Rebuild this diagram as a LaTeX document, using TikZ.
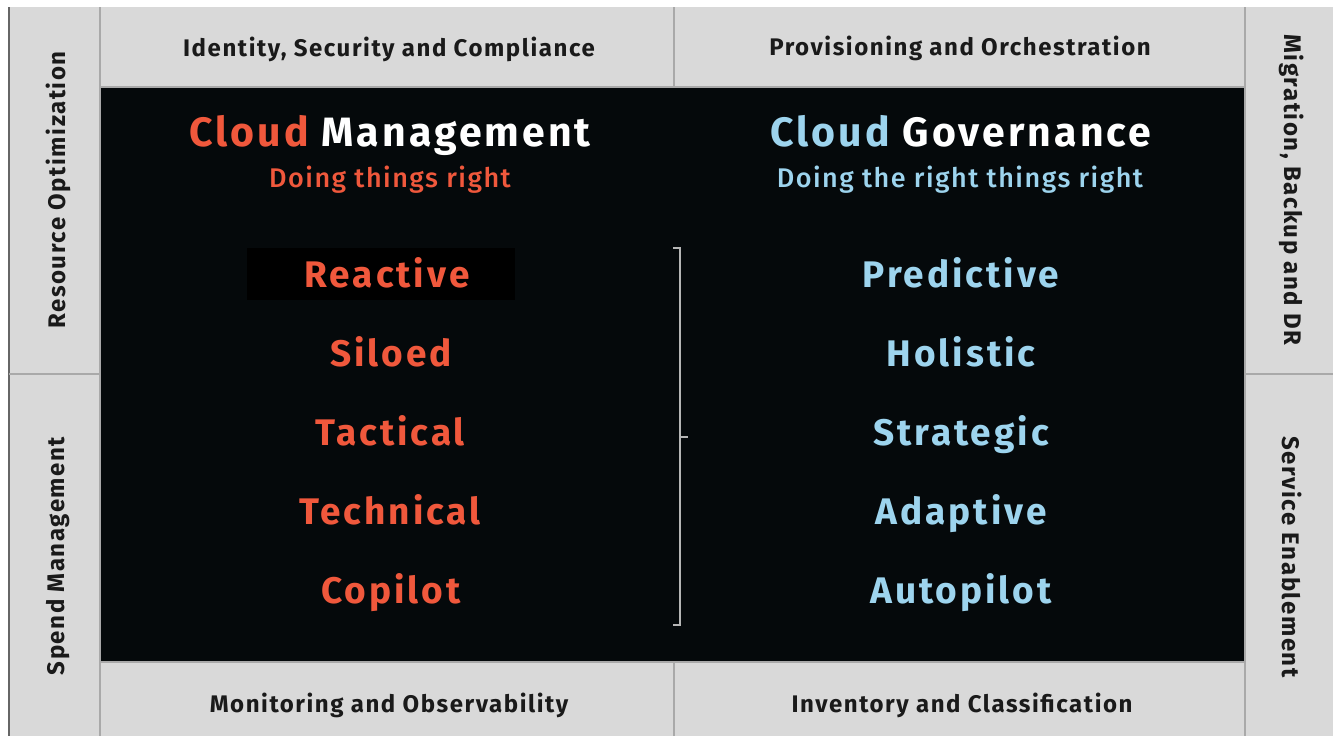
\documentclass[tikz,border=0pt]{standalone}
\usepackage{fontspec}
\setmainfont{Fira Sans}
\newfontfamily\cellfont{Fira Sans Bold}[LetterSpace=6.5]
\newfontfamily\headfont{Fira Sans Bold}[LetterSpace=7.5]
\newfontfamily\subfont{Fira Sans Medium}[LetterSpace=5.5]
\newfontfamily\itemfont{Fira Sans Bold}[LetterSpace=8]
\definecolor{panel}{HTML}{D9D9D9}
\definecolor{ink}{HTML}{1A1A1A}
\definecolor{night}{HTML}{05090B}
\definecolor{rust}{HTML}{F0583C}
\definecolor{sky}{HTML}{9DD4EE}
\definecolor{rule}{HTML}{A9A9A9}
\begin{document}
\begin{tikzpicture}[x=1pt,y=-1pt,
  cell/.style={font=\cellfont\fontsize{24}{26}\selectfont, text=ink, inner sep=0pt},
  head/.style={font=\headfont\fontsize{41}{46}\selectfont, inner sep=0pt, anchor=base},
  sub/.style={font=\subfont\fontsize{27}{30}\selectfont, inner sep=0pt, anchor=base},
  item/.style={font=\itemfont\fontsize{37}{42}\selectfont, inner sep=0pt, anchor=base},
  divider/.style={draw=rule, line width=1.5pt},
  bracket/.style={draw=rule!85!white, line width=1.6pt}]
\useasboundingbox (0,0) rectangle (1333,736);
\fill[white] (0,0) rectangle (1333,736);
% frame panels
\fill[panel] (9,7) rectangle (1333,736);
\fill[night] (100,87) rectangle (1245,662);
% dividing rules
\draw[draw=gray!80!black, line width=2pt] (9,7) -- (9,736);
\draw[divider] (100,7) -- (100,736);
\draw[divider] (1245,7) -- (1245,736);
\draw[divider] (100,87) -- (1245,87);
\draw[divider] (100,662) -- (1245,662);
\draw[divider] (674,7) -- (674,87);
\draw[divider] (674,662) -- (674,736);
\draw[divider] (9,374) -- (100,374);
\draw[divider] (1245,374) -- (1333,374);
% border cells
\node[cell, anchor=base] (isc) at (389,56) {Identity, Security and Compliance};
\node[cell, anchor=base] (po) at (960,55) {Provisioning and Orchestration};
\node[cell, anchor=base] (mo) at (389,712) {Monitoring and Observability};
\node[cell, anchor=base] (ic) at (962,712) {Inventory and Classification};
\node[cell, rotate=90] (ro) at (58,190) {Resource Optimization};
\node[cell, rotate=90] (sm) at (58,556) {Spend Management};
\node[cell, rotate=-90] (mb) at (1292,190) {Migration, Backup and DR};
\node[cell, rotate=-90] (se) at (1292,557) {Service Enablement};
% headings
\node[head] (cm) at (390,146) {\textcolor{rust}{Cloud} \textcolor{white}{Management}};
\node[sub, text=rust] (cms) at (390,187) {Doing things right};
\node[head] (cg) at (961,146) {\textcolor{sky}{Cloud} \textcolor{white}{Governance}};
\node[sub, text=sky] (cgs) at (960,187) {Doing the right things right};
% management traits
\fill[black] (247,248) rectangle (515,300);
\node[item, text=rust] (l1) at (387,287) {Reactive};
\node[item, text=rust] (l2) at (391,366) {Siloed};
\node[item, text=rust] (l3) at (390,445) {Tactical};
\node[item, text=rust] (l4) at (390,524) {Technical};
\node[item, text=rust] (l5) at (391,603) {Copilot};
% governance traits
\node[item, text=sky] (r1) at (961,287) {Predictive};
\node[item, text=sky] (r2) at (961,366) {Holistic};
\node[item, text=sky] (r3) at (961,445) {Strategic};
\node[item, text=sky] (r4) at (961,524) {Adaptive};
\node[item, text=sky] (r5) at (961,603) {Autopilot};
% bracket between the columns
\coordinate (bt) at (680,248);
\coordinate (bb) at (680,625);
\coordinate (bm) at (680,437);
\draw[bracket] ([xshift=-7pt]bt) -- (bt) -- (bb) -- ([xshift=-7pt]bb);
\draw[bracket] (bm) -- ([xshift=8pt]bm);
\end{tikzpicture}
\end{document}
